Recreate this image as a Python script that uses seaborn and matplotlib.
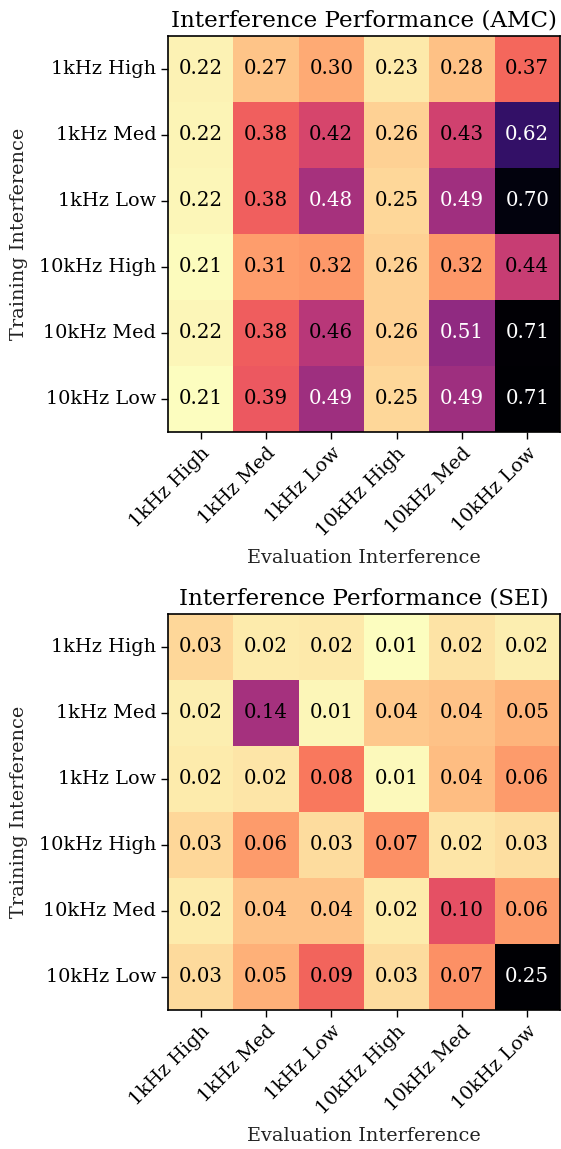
import numpy as np
import pandas as pd
import matplotlib
matplotlib.use("Agg")
import matplotlib.pyplot as plt
import seaborn as sns

plt.rcParams["font.family"] = ["DejaVu Serif"]

levels = ["1kHz High", "1kHz Med", "1kHz Low", "10kHz High", "10kHz Med", "10kHz Low"]

# Accuracy drop for AMC, rows = training interference, cols = evaluation interference
amc = [
    [0.222, 0.272, 0.300, 0.232, 0.276, 0.370],
    [0.220, 0.380, 0.420, 0.258, 0.428, 0.620],
    [0.218, 0.380, 0.480, 0.252, 0.488, 0.700],
    [0.212, 0.312, 0.318, 0.258, 0.318, 0.440],
    [0.218, 0.382, 0.458, 0.258, 0.508, 0.710],
    [0.210, 0.388, 0.490, 0.252, 0.490, 0.712],
]

# Same for SEI
sei = [
    [0.030, 0.020, 0.021, 0.010, 0.024, 0.018],
    [0.018, 0.140, 0.0145, 0.038, 0.040, 0.048],
    [0.020, 0.023, 0.078, 0.012, 0.043, 0.060],
    [0.030, 0.060, 0.027, 0.066, 0.023, 0.026],
    [0.020, 0.040, 0.040, 0.020, 0.100, 0.061],
    [0.028, 0.050, 0.088, 0.027, 0.066, 0.250],
]

titles = ["Interference Performance (AMC)", "Interference Performance (SEI)"]

W, H = 561, 1149
fig = plt.figure(figsize=(W / 100, H / 100), dpi=100)

boxes = [(168, 36, 561, 432), (168, 614, 561, 1010)]

for data, title, (x0, y0, x1, y1) in zip([amc, sei], titles, boxes):
    ax = fig.add_axes([x0 / W, 1 - y1 / H, (x1 - x0) / W - 0.002, (y1 - y0) / H])
    df = pd.DataFrame(data, index=levels, columns=levels)
    sns.heatmap(df, ax=ax, cmap="magma_r", annot=True, fmt=".2f", cbar=False,
                annot_kws={"fontsize": 14.2})
    # light text only on the darkest cells
    arr = np.asarray(data)
    thresh = arr.max() / 1.5
    for txt, v in zip(ax.texts, arr.ravel()):
        txt.set_color("white" if v > thresh else "black")
    for s in ax.spines.values():
        s.set_visible(True)
        s.set_linewidth(1.2)
        s.set_color("black")
    ax.tick_params(axis="both", length=5, width=1, color="black", labelsize=13.9)
    ax.set_xticklabels(levels, rotation=45, ha="right", rotation_mode="anchor")
    ax.set_yticklabels(levels, rotation=0)
    ax.set_title(title, fontsize=16.6, pad=7)
    ax.set_xlabel("Evaluation Interference", fontsize=13.9, color="#222222", labelpad=7)
    ax.set_ylabel("Training Interference", fontsize=13.9, color="#222222", labelpad=8)

fig.savefig("out.png", dpi=100)
